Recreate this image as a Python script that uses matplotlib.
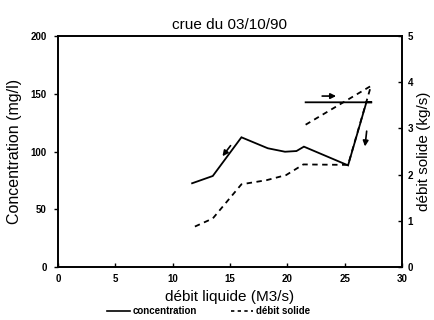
import matplotlib
matplotlib.use("Agg")
import matplotlib.pyplot as plt
from matplotlib.lines import Line2D

plt.rcParams['font.family'] = ['Liberation Sans', 'DejaVu Sans']

# Data
q_conc = [21.6, 27.4, 26.9, 25.3, 21.45, 20.8, 19.8, 18.3, 16.0, 13.5, 11.7]
conc = [142.6, 142.6, 142.6, 88.0, 104.2, 100.4, 99.8, 102.8, 112.3, 78.8, 72.5]
q_sol = [21.6, 27.3, 25.3, 21.4, 19.9, 18.2, 16.0, 13.5, 11.8]
sol = [3.08, 3.92, 2.21, 2.22, 1.99, 1.88, 1.79, 1.05, 0.86]

xticks = [0, 5, 10, 15, 20, 25, 30]
yticks_left = [0, 50, 100, 150, 200]
yticks_right = [0, 1, 2, 3, 4, 5]

fig = plt.figure(figsize=(4.35, 3.2), dpi=100)
ax = fig.add_axes([0.1333, 0.1656, 0.7907, 0.7219])
ax2 = ax.twinx()

ax.plot(q_conc, conc, color='black', lw=1.3, solid_joinstyle='miter')
ax2.plot(q_sol, sol, color='black', lw=1.3, ls=(0, (3, 2.5)))

ax.set_xlim(0, 30)
ax.set_ylim(0, 200)
ax2.set_ylim(0, 5)
ax.set_xticks(xticks)
ax.set_yticks(yticks_left)
ax2.set_yticks(yticks_right)

for a in (ax, ax2):
    for s in a.spines.values():
        s.set_linewidth(1.2)
        s.set_color('black')

ax.tick_params(axis='x', direction='in', length=3, labelsize=7, pad=5, width=1)
ax.tick_params(axis='y', direction='out', length=3, labelsize=7, pad=5, width=1)
ax2.tick_params(axis='y', direction='in', length=3, labelsize=7, pad=4, width=1)
for lab in ax.get_xticklabels() + ax.get_yticklabels() + ax2.get_yticklabels():
    lab.set_fontweight('bold')

ax.set_xlabel('débit liquide (M3/s)', fontsize=11, labelpad=4)
ax.set_ylabel('Concentration (mg/l)', fontsize=11.5, labelpad=6)
ax2.set_ylabel('débit solide (kg/s)', fontsize=11)
ax2.yaxis.set_label_coords(1.045, 0.5)
ax.set_title('crue du 03/10/90', fontsize=11, pad=5)

# direction arrows
arrowprops = dict(arrowstyle='-|>', color='black', lw=1.2, mutation_scale=8)
ax.annotate('', xy=(24.5, 148), xytext=(22.8, 148), arrowprops=arrowprops)
ax.annotate('', xy=(26.75, 102), xytext=(26.95, 120), arrowprops=arrowprops)
ax.annotate('', xy=(14.2, 94), xytext=(15.2, 107), arrowprops=arrowprops)

handles = [Line2D([], [], color='black', lw=1.2),
           Line2D([], [], color='black', lw=1.2, ls=(0, (2, 2)))]
fig.legend(handles, ['concentration', 'débit solide'], loc='center',
           bbox_to_anchor=(0.48, 0.027), ncol=2, frameon=False,
           handlelength=2.3, handletextpad=0.3, columnspacing=3.5,
           prop={'weight': 'bold', 'size': 7})

fig.savefig('out.png', dpi=100)
